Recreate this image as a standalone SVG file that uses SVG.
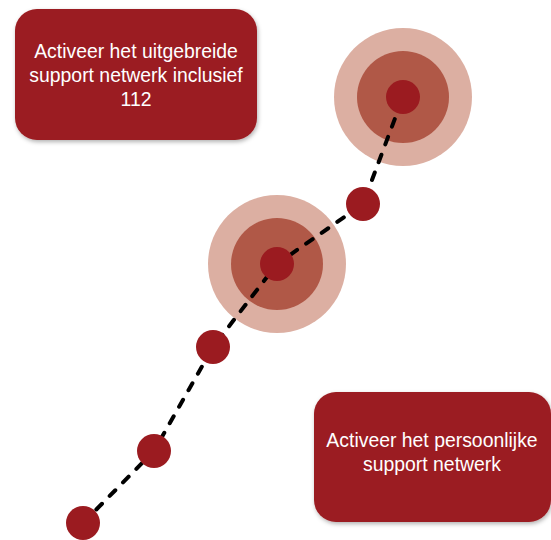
<svg xmlns="http://www.w3.org/2000/svg" width="551" height="540" viewBox="0 0 551 540">
<style>
.box{fill:#9b1b20;filter:url(#sh)}
.t{font-family:"Liberation Sans",Arial,sans-serif;fill:#ffffff;text-anchor:middle;font-size:19.4px}
.outer{fill:#dcafa2}
.mid{fill:#b05847}
.dot{fill:#9b1b20}
.dash{fill:none;stroke:#000;stroke-width:4;stroke-dasharray:8 11;stroke-linecap:round}
</style>
<defs>
<filter id="sh" x="-10%" y="-10%" width="125%" height="130%">
<feDropShadow dx="1" dy="2" stdDeviation="2" flood-color="#000" flood-opacity="0.3"/>
</filter>
</defs>
<rect width="551" height="540" fill="#fff"/>
<g id="box-uitgebreid">
<rect class="box" x="15" y="9" width="242" height="131" rx="22"/>
<text class="t"><tspan x="136" y="58">Activeer het uitgebreide</tspan><tspan x="136" y="82">support netwerk inclusief</tspan><tspan x="136" y="106">112</tspan></text>
</g>
<g id="box-persoonlijk">
<rect class="box" x="314" y="392" width="237" height="130" rx="22"/>
<text class="t"><tspan x="432" y="447">Activeer het persoonlijke</tspan><tspan x="432" y="471">support netwerk</tspan></text>
</g>
<g id="target-top-rings">
<circle class="outer" cx="403" cy="97" r="69"/>
<circle class="mid" cx="403" cy="97" r="46"/>
</g>
<g id="target-mid-rings">
<circle class="outer" cx="277" cy="264" r="69"/>
<circle class="mid" cx="277" cy="264" r="46"/>
</g>
<g id="connectors">
<polyline class="dash" points="83,523 154,451 213,347 277,264 363,204 403,97"/>
</g>
<g id="target-top"><circle class="dot" cx="403" cy="97" r="17"/></g>
<g id="target-mid"><circle class="dot" cx="277" cy="264" r="17"/></g>
<g id="dot-1"><circle class="dot" cx="363" cy="204" r="17"/></g>
<g id="dot-2"><circle class="dot" cx="213" cy="347" r="17"/></g>
<g id="dot-3"><circle class="dot" cx="154" cy="451" r="17"/></g>
<g id="dot-4"><circle class="dot" cx="83" cy="523" r="17"/></g>
</svg>
